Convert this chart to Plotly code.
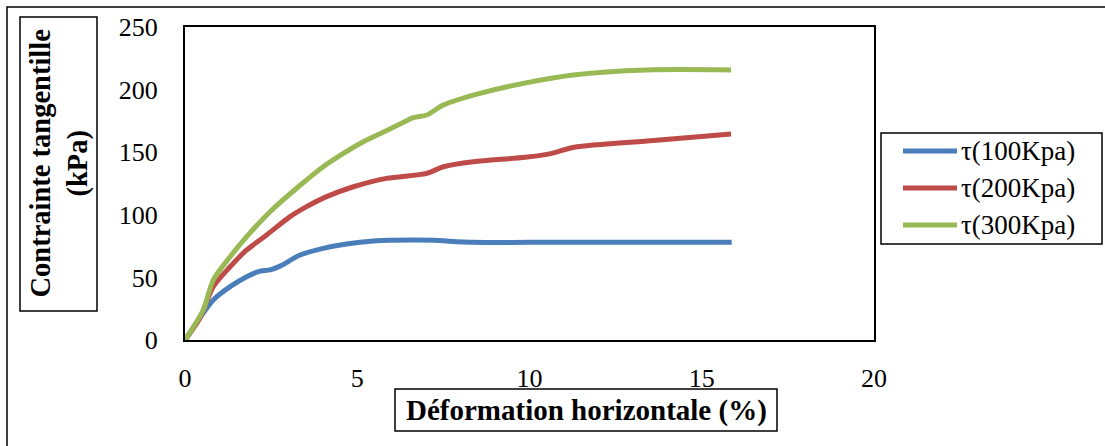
import plotly.graph_objects as go

# Shear test: horizontal strain (%) vs shear stress (kPa) at three normal stresses
series_names = ["τ(100Kpa)", "τ(200Kpa)", "τ(300Kpa)"]
series_colors = ["#4A7EBB", "#BE4B48", "#98B954"]

x_100 = [0, 0.44, 0.82, 1.31, 1.79, 2.18, 2.47, 2.76, 3.34, 4.01, 4.69, 5.47,
         6.63, 7.2, 8.36, 10.0, 12.0, 14.0, 15.87]
y_100 = [0, 18, 32, 42.6, 50.6, 55, 56, 59, 67.9, 73.2, 76.7, 79,
         79.8, 79.6, 78, 78, 78, 78, 78]

x_200 = [0, 0.44, 0.82, 1.31, 1.79, 2.37, 3.05, 3.53, 4.11, 4.89, 5.85, 7.02,
         7.5, 8.37, 9.87, 10.65, 11.3, 13.6, 15.85]
y_200 = [0, 18, 42.6, 58.5, 71.9, 83.9, 98.5, 106.5, 114.5, 122.4, 129.1, 133.1,
         138.4, 142.4, 145.9, 149.1, 154, 159.4, 164.5]

x_300 = [0, 0.53, 0.82, 1.31, 1.79, 2.47, 3.24, 4.01, 4.6, 5.27, 5.75, 6.24,
         6.63, 7.02, 7.5, 8.56, 9.82, 11.27, 13.4, 15.85]
y_300 = [0, 24, 47.9, 66.5, 82.5, 102.5, 121.2, 138.4, 149.1, 159.7, 166, 172.5,
         177.6, 179.7, 187.7, 197, 205, 211.7, 215.7, 215.7]

x_ticks = [0, 5, 10, 15, 20]
y_ticks = [0, 50, 100, 150, 200, 250]

x_title = "Déformation horizontale (%)"
y_title = "Contrainte tangentille<br>(kPa)"

W, H = 1105, 446
L, R, T, B = 185, 874, 27, 340  # plot area in pixels


def px(x):
    return (x - L) / (R - L)


def py(y):
    return (B - y) / (B - T)


FONT = "Liberation Serif, Times New Roman, serif"

fig = go.Figure()
for xs, ys, name, color in zip([x_100, x_200, x_300], [y_100, y_200, y_300],
                               series_names, series_colors):
    fig.add_trace(go.Scatter(
        x=xs, y=ys, name=name, mode="lines",
        line=dict(color=color, width=5, shape="spline", smoothing=0.8),
        showlegend=False,
    ))

shapes = []
annotations = []

# outer frame of the chart
shapes.append(dict(type="rect", xref="paper", yref="paper",
                   x0=px(7), x1=px(1112), y0=py(452), y1=py(7),
                   line=dict(color="black", width=1.5), layer="below"))

# boxed y-axis title
shapes.append(dict(type="rect", xref="paper", yref="paper",
                   x0=px(20), x1=px(97), y0=py(311), y1=py(17),
                   line=dict(color="black", width=1.5)))
annotations.append(dict(xref="paper", yref="paper", x=px(58.5), y=py(164),
                        text="<b>" + y_title + "</b>", showarrow=False,
                        textangle=-90, xanchor="center", yanchor="middle",
                        font=dict(family=FONT, size=28.5, color="black")))

# boxed x-axis title
shapes.append(dict(type="rect", xref="paper", yref="paper",
                   x0=px(395), x1=px(777), y0=py(431), y1=py(389),
                   line=dict(color="black", width=1.5)))
annotations.append(dict(xref="paper", yref="paper", x=px(586), y=py(410),
                        text="<b>" + x_title + "</b>", showarrow=False,
                        xanchor="center", yanchor="middle",
                        font=dict(family=FONT, size=29, color="black")))

# legend box with line samples
shapes.append(dict(type="rect", xref="paper", yref="paper",
                   x0=px(881), x1=px(1102), y0=py(244), y1=py(133),
                   line=dict(color="black", width=1.5)))
for i, (name, color) in enumerate(zip(series_names, series_colors)):
    yy = 151 + i * 37
    shapes.append(dict(type="line", xref="paper", yref="paper",
                       x0=px(903), x1=px(957), y0=py(yy), y1=py(yy),
                       line=dict(color=color, width=5)))
    annotations.append(dict(xref="paper", yref="paper", x=px(959), y=py(yy),
                            text=name, showarrow=False,
                            xanchor="left", yanchor="middle",
                            font=dict(family=FONT, size=27, color="black")))

fig.update_layout(
    width=W, height=H,
    margin=dict(l=L, r=W - R, t=T, b=H - B, pad=0),
    paper_bgcolor="white", plot_bgcolor="white",
    shapes=shapes, annotations=annotations,
    showlegend=False,
    font=dict(family=FONT, size=26, color="black"),
)
fig.update_xaxes(range=[0, 20], tickvals=x_ticks, ticks="", showgrid=False,
                 zeroline=False, showline=True, mirror=True, linecolor="black",
                 linewidth=2, ticklabelstandoff=14,
                 tickfont=dict(family=FONT, size=26, color="black"))
fig.update_yaxes(range=[0, 250], tickvals=y_ticks, ticks="", showgrid=False,
                 zeroline=False, showline=True, mirror=True, linecolor="black",
                 linewidth=2, ticklabelstandoff=20,
                 tickfont=dict(family=FONT, size=26, color="black"))

fig.write_html("out.html")
